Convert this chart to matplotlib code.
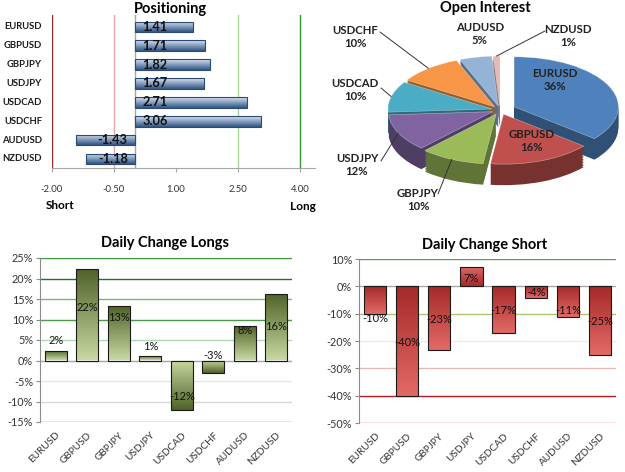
import numpy as np
import matplotlib
matplotlib.use("Agg")
import matplotlib.pyplot as plt
from matplotlib.colors import LinearSegmentedColormap, to_rgb
from matplotlib.ticker import FuncFormatter

plt.rcParams['font.family'] = ['Lato', 'DejaVu Sans']

# ---- data ----
pairs = ['EURUSD', 'GBPUSD', 'GBPJPY', 'USDJPY', 'USDCAD', 'USDCHF', 'AUDUSD', 'NZDUSD']
positioning = [1.41, 1.71, 1.82, 1.67, 2.71, 3.06, -1.43, -1.18]
pos_ticks = [-2.0, -0.5, 1.0, 2.5, 4.0]

open_interest = [36, 16, 10, 12, 10, 10, 5, 1]

long_change = [2.2, 22.3, 13.3, 1.1, -12.1, -3.1, 8.3, 16.3]
long_ticks = [25, 20, 15, 10, 5, 0, -5, -10, -15]
short_change = [-10.0, -40.0, -23.2, 7.1, -17.1, -4.3, -11.2, -25.1]
short_ticks = [10, 0, -10, -20, -30, -40, -50]

W, H = 625, 472
fig = plt.figure(figsize=(W / 100, H / 100), dpi=100)
fig.patch.set_facecolor('white')


def px_axes(x0, y0, x1, y1):
    # axes from pixel box (y measured from top)
    return fig.add_axes([x0 / W, 1 - y1 / H, (x1 - x0) / W, (y1 - y0) / H])


def fig_text(x, y, s, **kw):
    fig.text(x / W, 1 - y / H, s, **kw)


def gradient_fill(ax, bar, c0, c1, flip=False):
    """Fill a bar with a vertical gradient, c0 at the base/bottom end."""
    x0, y0 = bar.get_x(), bar.get_y()
    w, h = bar.get_width(), bar.get_height()
    cmap = LinearSegmentedColormap.from_list('g', [c0, c1])
    grad = np.linspace(0, 1, 64).reshape(-1, 1)
    ext = (x0, x0 + w, y0 + h, y0) if flip else (x0, x0 + w, y0, y0 + h)
    im = ax.imshow(grad, cmap=cmap, aspect='auto', origin='lower',
                   extent=ext, zorder=2.5, interpolation='bilinear')
    im.set_clip_path(bar)


# ---- Positioning ----
ax = px_axes(52, 15, 315, 168)
ypos = np.arange(len(pairs))
bars = ax.barh(ypos, positioning, height=0.57, facecolor='none',
               edgecolor='#2b4a75', linewidth=0.8, zorder=3)
for b in bars:
    gradient_fill(ax, b, '#2f5485', '#d9e4f3', flip=True)
for xv, col in zip(pos_ticks[:2] + pos_ticks[3:],
                   ['#a0282a', '#e3a5a5', '#a9d59a', '#2e9a2e']):
    ax.axvline(xv, color=col, lw=1, zorder=1)
ax.axvline(0, color='#a6a6a6', lw=1, zorder=1)
ax.set_xlim(-2.0, 4.36)
ax.set_ylim(7.48, -0.63)
for s in ['top', 'right', 'left']:
    ax.spines[s].set_visible(False)
ax.spines['bottom'].set_color('#a6a6a6')
ax.set_xticks(pos_ticks)
ax.set_xticklabels([f'{t:.2f}' for t in pos_ticks])
ax.tick_params(axis='x', length=3, pad=9, labelsize=6.8, color='#a6a6a6',
               labelcolor='#333333')
ax.set_yticks([])
for i, (p, v) in enumerate(zip(pairs, positioning)):
    ax.text(-0.038, i, p, transform=ax.get_yaxis_transform(), ha='right',
            va='center', fontsize=6.8, fontweight='bold', color='#1a1a1a')
    if v >= 0:
        ax.text(0.19, i, f'{v:.2f}', ha='left', va='center', fontsize=9.2,
                fontweight='bold', color='#111111', zorder=5)
    else:
        ax.text(-0.17, i, f'{v:.2f}', ha='right', va='center', fontsize=9.2,
                fontweight='bold', color='#111111', zorder=5)
fig_text(170, 9, 'Positioning', ha='center', va='center', fontsize=10.5,
         fontweight='bold')
fig_text(60, 205, 'Short', ha='center', va='center', fontsize=8.5, fontweight='bold')
fig_text(303, 207, 'Long', ha='center', va='center', fontsize=8.5, fontweight='bold')

# ---- Open Interest (pseudo 3D pie) ----
axp = px_axes(370, 15, 625, 215)
face_cols = ['#4f81bd', '#c0504d', '#9bbb59', '#8064a2', '#4bacc6',
             '#f79646', '#95b3d7', '#e6b9b8']
side_cols = [tuple(c * 0.62 for c in to_rgb(fc)) for fc in face_cols]
explode = [0.15, 0.09, 0.09, 0.08, 0.08, 0.08, 0.08, 0.08]
depth = 0.42
for d in np.linspace(-depth, -0.02, 14):
    axp.pie(open_interest, colors=side_cols, startangle=90, counterclock=False,
            explode=explode, center=(0, d), wedgeprops=dict(linewidth=0))
axp.pie(open_interest, colors=face_cols, startangle=90, counterclock=False,
        explode=explode, center=(0, 0),
        wedgeprops=dict(linewidth=0.4, edgecolor=(1, 1, 1, 0.5)))
axp.set_aspect('auto')
axp.set_xlim(-1.25, 1.20)
axp.set_ylim(-2.1, 1.9)
axp.axis('off')

fracs = np.array(open_interest) / sum(open_interest)
starts = 90 - 360 * np.concatenate([[0], np.cumsum(fracs)[:-1]])
mids = np.deg2rad(starts - 180 * fracs)

label_xy = [(555, 80), (532, 141), (418, 200), (357, 165), (355, 90),
            (355, 37), (480, 34), (568, 36)]
leader_from = [None, None, (438, 194), (381, 161), (381, 88), (380, 32),
               None, (545, 31)]
for i, (p, v) in enumerate(zip(pairs, open_interest)):
    lx, ly = label_xy[i]
    fig_text(lx, ly, f'{p}\n{v}%', ha='center', va='center', fontsize=8.2,
             fontweight='bold', color='#222222', linespacing=1.25)
    if leader_from[i] is not None:
        r = 1.0 + explode[i]
        ex, ey = r * np.cos(mids[i]), r * np.sin(mids[i])
        fx, fy = leader_from[i]
        axp.annotate('', xy=(ex, ey), xytext=(fx, H - fy),
                     textcoords='figure pixels', annotation_clip=False,
                     arrowprops=dict(arrowstyle='-', color='#333333', lw=0.7,
                                     shrinkA=0, shrinkB=0))
fig_text(485, 8, 'Open Interest', ha='center', va='center', fontsize=10.5,
         fontweight='bold')


# ---- Daily change charts ----
def change_chart(box, values, ticks, grid_cols, c_base, c_tip, label_y, title,
                 title_xy):
    a = px_axes(*box)
    x = np.arange(len(pairs))
    bs = a.bar(x, values, width=0.69, facecolor='none', edgecolor='#1a1a1a',
               linewidth=0.8, zorder=3)
    for b in bs:
        gradient_fill(a, b, c_base, c_tip)
    for t, c in zip(ticks, grid_cols):
        a.axhline(t, color=c, lw=1, zorder=1)
    a.set_xlim(-0.5, len(pairs) - 0.5)
    a.set_ylim(min(ticks), max(ticks))
    for s in ['top', 'right', 'bottom']:
        a.spines[s].set_visible(False)
    a.spines['left'].set_color('#8c8c8c')
    a.set_yticks(ticks)
    a.yaxis.set_major_formatter(FuncFormatter(lambda v, _: f'{v:.0f}%'))
    a.tick_params(axis='y', length=3, color='#8c8c8c', labelsize=7.8,
                  labelcolor='#333333', pad=2)
    a.set_xticks(x)
    a.set_xticklabels(pairs, rotation=45, ha='right', rotation_mode='anchor')
    a.tick_params(axis='x', length=0, labelsize=7.2, labelcolor='#333333', pad=6)
    for xi, v, ly in zip(x, values, label_y):
        a.text(xi, ly, f'{round(v):.0f}%', ha='center', va='center',
               fontsize=8, color='#111111', zorder=5)
    fig_text(title_xy[0], title_xy[1], title, ha='center', va='center',
             fontsize=10.5, fontweight='bold')
    return a


long_grid = ['#3c9c3c', '#1a7a1a', '#7ab87a', '#4a9a4a', '#b0d8b0', '#a6a6a6',
             '#e0eee0', '#d8d8d8', '#d9534f']
long_label_y = [5.0, 13.0, 10.5, 3.3, -8.8, 1.2, 7.3, 8.3]
change_chart((40, 258, 292, 422), long_change, long_ticks, long_grid,
             '#c7d9a0', '#4f6228', long_label_y, 'Daily Change Longs', (165, 243))

short_grid = ['#4aa84a', '#a6a6a6', '#a8c870', '#f2e6e6', '#e6b9b8', '#b01e1e',
              '#d9534f']
short_label_y = [-11.8, -20.5, -12.2, 2.8, -8.8, -2.1, -9.0, -12.9]
change_chart((359, 259, 616, 423), short_change, short_ticks, short_grid,
             '#a52a2a', '#e26a66', short_label_y, 'Daily Change Short', (485, 245))

fig.savefig('out.png', dpi=100)
